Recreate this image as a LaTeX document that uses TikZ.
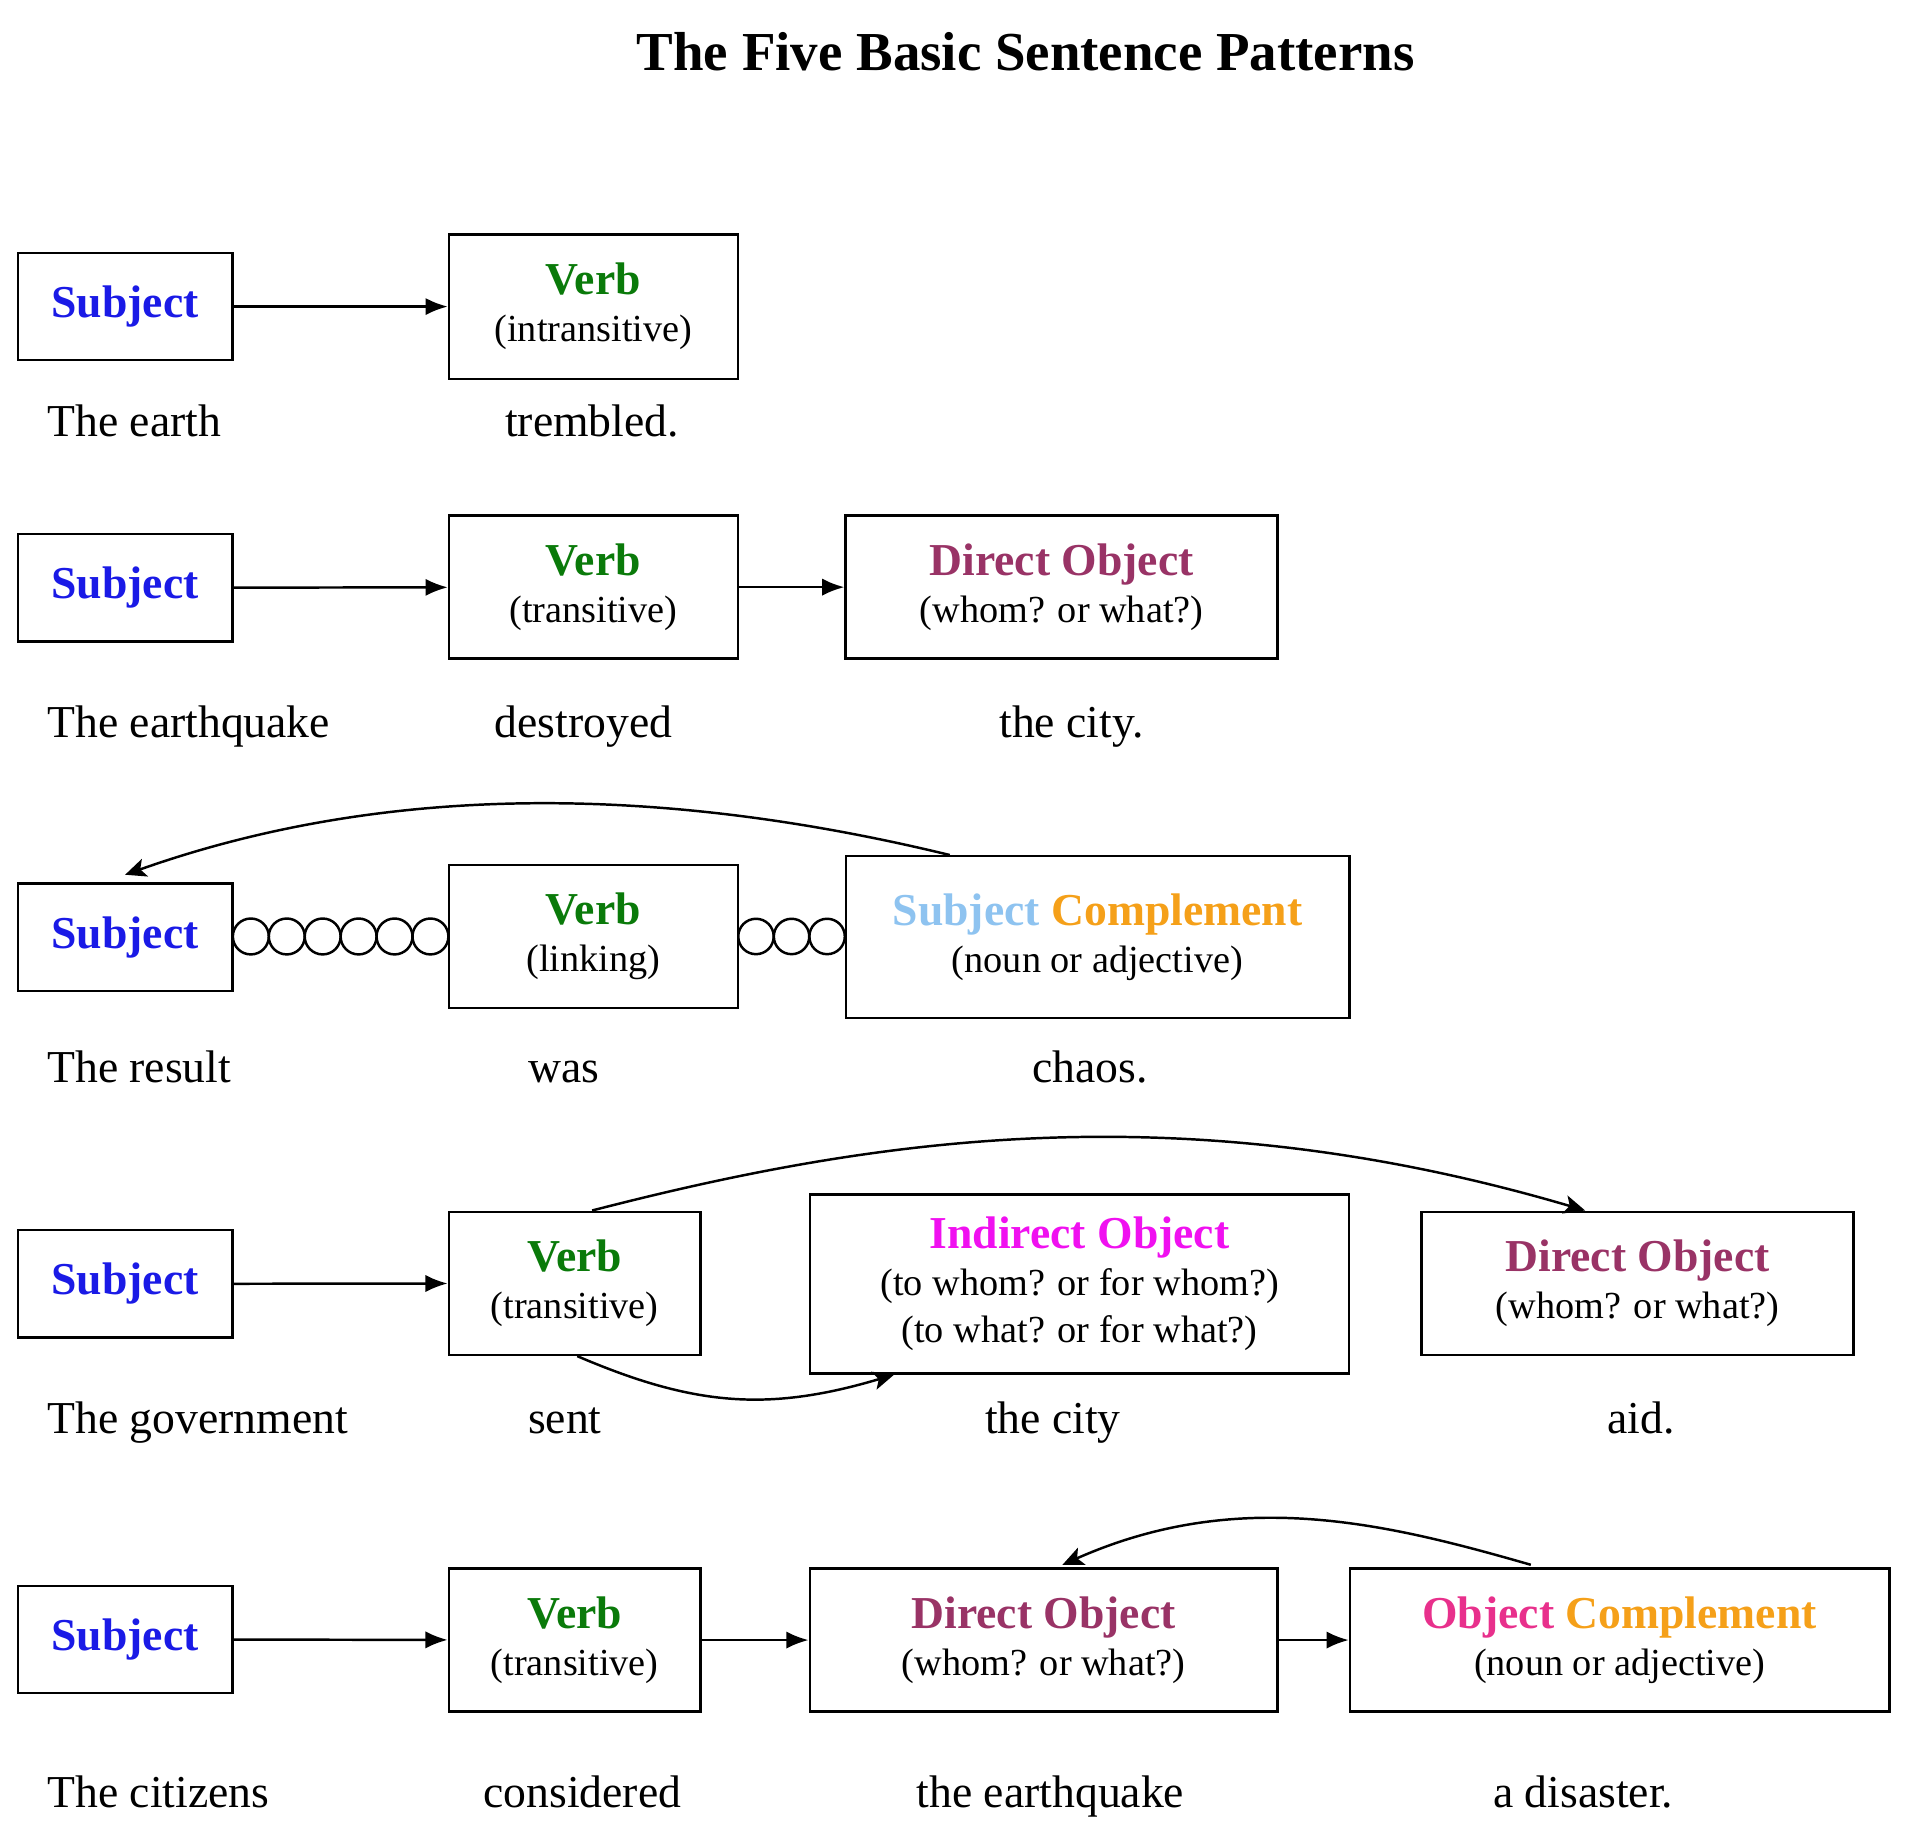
\documentclass[tikz,border=0pt]{standalone}
\usepackage{fontspec}
\setmainfont{Liberation Serif}
\usetikzlibrary{arrows.meta,calc}
\definecolor{subj}{HTML}{1A1AE6}
\definecolor{verb}{HTML}{0A7A0A}
\definecolor{dobj}{HTML}{993366}
\definecolor{lblue}{HTML}{8EC3F0}
\definecolor{orng}{HTML}{F5A019}
\definecolor{iobj}{HTML}{F010F0}
\definecolor{pink}{HTML}{E8308C}
\begin{document}
\begin{tikzpicture}[x=1bp,y=-1bp,
 box/.style={draw,line width=2pt,inner sep=0,align=center,font=\fontsize{37}{42}\selectfont},
 word/.style={font=\fontsize{37}{42}\selectfont,inner sep=0},
 arr/.style={line width=2pt,-{Latex[length=18pt,width=14pt]}},
 carr/.style={line width=2pt,-{Stealth[length=17pt,width=15pt,inset=4pt]}}]
\useasboundingbox (0,0) rectangle (1550,1482);
\newcommand{\bx}[6]{\node[box,minimum width=#3-#2,minimum height=#5-#4] (#1) at ({(#2+#3)/2},{(#4+#5)/2}) {#6};}
\newcommand{\tl}[2]{\textbf{\color{#1}#2}}
\newcommand{\subl}[1]{\\[-4pt]{\fontsize{31}{37}\selectfont #1}}
\node[font=\fontsize{44.5}{50}\selectfont\bfseries] (title) at (828,42) {The Five Basic Sentence Patterns};
% row 1
\bx{s1}{14}{188}{204}{291}{\tl{subj}{Subject}}
\bx{v1}{362}{596}{189}{306}{\tl{verb}{Verb}\subl{(intransitive)}}
\draw[arr] (s1) -- (v1);
\node[word,anchor=base west] (w11) at (38,352) {The earth};
\node[word,anchor=base] (w12) at (478,352) {trembled.};
% row 2
\bx{s2}{14}{188}{431}{518}{\tl{subj}{Subject}}
\bx{v2}{362}{596}{416}{532}{\tl{verb}{Verb}\subl{(transitive)}}
\bx{d2}{682}{1032}{416}{532}{\tl{dobj}{Direct Object}\subl{(whom? or what?)}}
\draw[arr] (s2) -- (v2);
\draw[arr] (v2) -- (d2);
\node[word,anchor=base west] (w21) at (38,595) {The earthquake};
\node[word,anchor=base] (w22) at (471,595) {destroyed};
\node[word,anchor=base] (w23) at (865,595) {the city.};
% row 3
\bx{s3}{14}{188}{713}{800}{\tl{subj}{Subject}}
\bx{v3}{362}{596}{698}{814}{\tl{verb}{Verb}\subl{(linking)}}
\bx{c3}{682}{1090}{691}{822}{\textbf{\color{lblue}Subject \color{orng}Complement}\subl{(noun or adjective)}}
\foreach \i in {0,...,5} \draw[line width=2pt] ({202.5+29*\i},756) circle (14.5);
\foreach \i in {0,...,2} \draw[line width=2pt] ({610.3+28.7*\i},756) circle (14.3);
\draw[carr] ($(c3.north west)+(85,0)$) .. controls (560,640) and (330,625) .. ($(s3.north)+(0,-6)$);
\node[word,anchor=base west] (w31) at (38,874) {The result};
\node[word,anchor=base] (w32) at (455,874) {was};
\node[word,anchor=base] (w33) at (880,874) {chaos.};
% row 4
\bx{s4}{14}{188}{993}{1080}{\tl{subj}{Subject}}
\bx{v4}{362}{566}{978}{1094}{\tl{verb}{Verb}\subl{(transitive)}}
\bx{i4}{653}{1090}{964}{1109}{\tl{iobj}{Indirect Object}\subl{(to whom? or for whom?)}\subl{(to what? or for what?)}}
\bx{d4}{1147}{1497}{978}{1094}{\tl{dobj}{Direct Object}\subl{(whom? or what?)}}
\draw[arr] (s4) -- (v4);
\draw[carr] ($(v4.north)+(14,0)$) .. controls (700,920) and (950,880) .. ($(d4.north west)+(133,0)$);
\draw[carr] ($(v4.south)+(2,0)$) .. controls (560,1135) and (620,1140) .. ($(i4.south west)+(69,0)$);
\node[word,anchor=base west] (w41) at (38,1157) {The government};
\node[word,anchor=base] (w42) at (456,1157) {sent};
\node[word,anchor=base] (w43) at (850,1157) {the city};
\node[word,anchor=base] (w44) at (1325,1157) {aid.};
% row 5
\bx{s5}{14}{188}{1280}{1367}{\tl{subj}{Subject}}
\bx{v5}{362}{566}{1266}{1382}{\tl{verb}{Verb}\subl{(transitive)}}
\bx{d5}{653}{1032}{1266}{1382}{\tl{dobj}{Direct Object}\subl{(whom? or what?)}}
\bx{o5}{1089}{1526}{1266}{1382}{\textbf{\color{pink}Object \color{orng}Complement}\subl{(noun or adjective)}}
\draw[arr] (s5) -- (v5);
\draw[arr] (v5) -- (d5);
\draw[arr] (d5) -- (o5);
\draw[carr] ($(o5.north west)+(147,-2)$) .. controls (1120,1230) and (1000,1200) .. ($(d5.north west)+(205,-2)$);
\node[word,anchor=base west] (w51) at (38,1459) {The citizens};
\node[word,anchor=base] (w52) at (470,1459) {considered};
\node[word,anchor=base] (w53) at (848,1459) {the earthquake};
\node[word,anchor=base] (w54) at (1278,1459) {a disaster.};
\end{tikzpicture}
\end{document}
